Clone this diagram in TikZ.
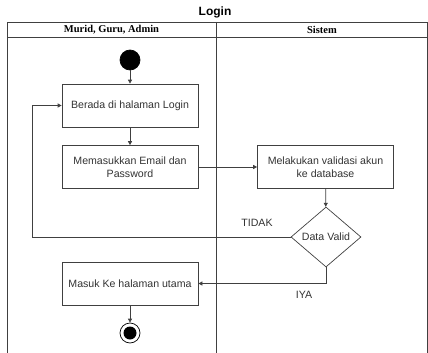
\documentclass[tikz,border=0pt]{standalone}
\usepackage{fontspec}
\setmainfont{Liberation Sans}
\newfontfamily\lanefont{Liberation Serif}
\usetikzlibrary{shapes.geometric,arrows.meta}
\usetikzlibrary{positioning}

\begin{document}
\begin{tikzpicture}[x=1pt,y=-1pt,->,>={Triangle[length=4pt,width=4pt]},line width=0.7pt,draw=black!75,
	font=\fontsize{10.6}{13}\selectfont,text=black!80,
	act node/.style={rectangle,draw,minimum width=136pt,minimum height=43pt,inner sep=2pt,align=center},
	dec node/.style={diamond,draw,minimum width=70pt,minimum height=60pt,inner sep=0pt,aspect=1.17},
	start node/.style={circle,fill=black,draw=black,minimum size=20pt,inner sep=0pt},
	end node/.style={circle,draw=black,minimum size=20pt,inner sep=0pt,path picture={\fill[black] (path picture bounding box.center) circle (6.5pt);}},
	lane head/.style={font=\lanefont\bfseries\fontsize{10.5}{12}\selectfont,text=black}]
		\useasboundingbox (0,0) rectangle (428,353);
		% swimlanes
		\draw[-] (7,353) -- (7,22) -- (427.5,22) -- (427.5,353);
		\draw[-] (7,37) -- (427.5,37);
		\draw[-] (216,22) -- (216,353);
		\node[font=\bfseries\fontsize{12}{14}\selectfont,text=black] (title) at (215,12) {Login};
		\node[lane head] (lane1) at (111.5,29.5) {Murid, Guru, Admin};
		\node[lane head] (lane2) at (322,29.5) {Sistem};

		\node[start node] (start) at (130,60) {};
		\node[act node] (1) at (130,105.5) {Berada di halaman Login};
		\node[act node] (2) at (130,167) {Memasukkan Email dan\\Password};
		\node[act node] (3) at (325.5,167) {Melakukan validasi akun\\ke database};
		\node[dec node] (4) at (326,237) {Data Valid};
		\node[act node] (5) at (130,283.5) {Masuk Ke halaman utama};
		\node[end node] (end) at (130,333) {};
		\coordinate (back) at (32,237);

		\path
			(start) edge (1)
			(1) edge (2)
			(2) edge (3)
			(3) edge (4)
			(5) edge (end);
		\draw (4.west) -- node[pos=0.13,above,yshift=7pt] {TIDAK} (back) |- (1.west);
		\draw (4.south) |- node[pos=0.586,below,yshift=-4pt] {IYA} (5.east);
\end{tikzpicture}
\end{document}
